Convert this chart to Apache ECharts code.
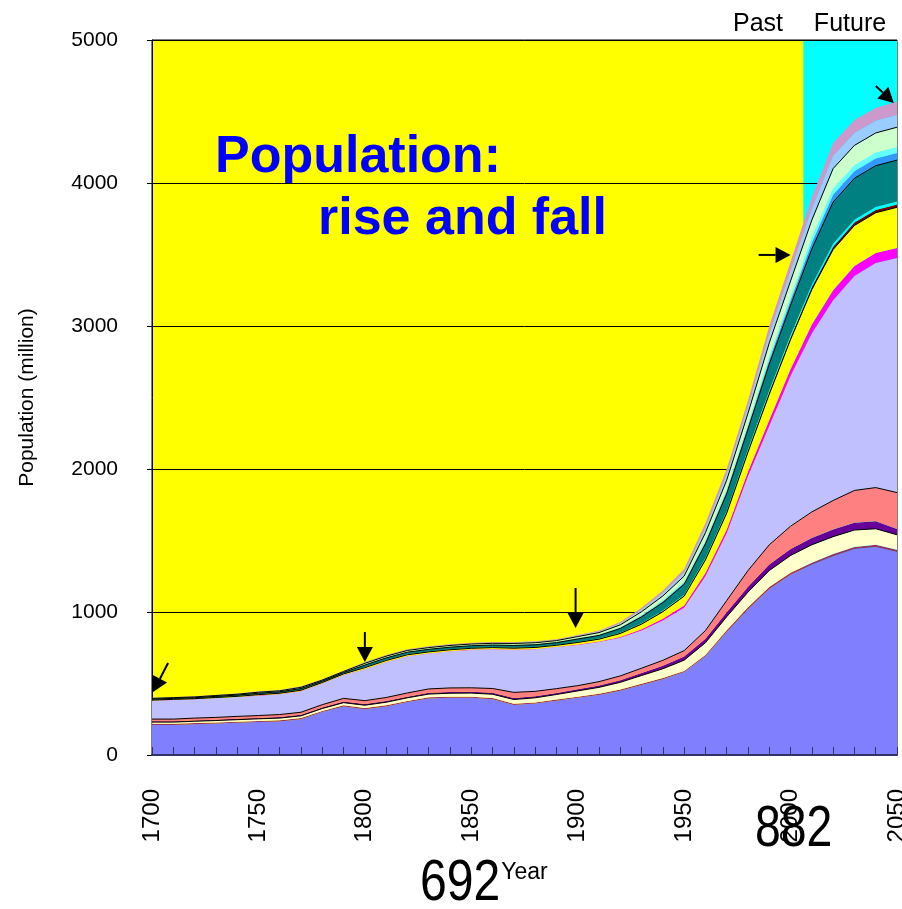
<!DOCTYPE html>
<html>
<head>
<meta charset="utf-8">
<script src="https://cdn.jsdelivr.net/npm/echarts@6/dist/echarts.min.js"></script>
<style>
html, body { margin: 0; padding: 0; background: #fff; }
#main { width: 902px; height: 909px; }
</style>
</head>
<body>
<div id="main"></div>
<script>
// 年份（每10年一个点）
var years = ['1700', '1710', '1720', '1730', '1740', '1750', '1760', '1770', '1780', '1790',
  '1800', '1810', '1820', '1830', '1840', '1850', '1860', '1870', '1880', '1890',
  '1900', '1910', '1920', '1930', '1940', '1950', '1960', '1970', '1980', '1990',
  '2000', '2010', '2020', '2030', '2040', '2050'];

// 各层人口（百万），自下而上堆叠
var layer1 = [210, 210, 215, 220, 225, 230, 235, 250, 300, 340, 320, 340, 370, 395, 400, 400, 390, 350, 360, 380, 400, 420, 450, 490, 530, 580, 690, 860, 1020, 1160, 1260, 1330, 1390, 1440, 1455, 1420];
var layer2 = [8, 8, 8, 8, 8, 8, 8, 8, 8, 8, 8, 8, 8, 8, 8, 8, 8, 8, 8, 8, 8, 8, 8, 8, 8, 8, 10, 12, 14, 15, 15, 15, 15, 15, 15, 15];
var layer3 = [12, 12, 13, 13, 14, 15, 15, 16, 17, 18, 20, 21, 22, 23, 24, 25, 27, 30, 32, 35, 40, 45, 50, 58, 65, 75, 85, 95, 105, 115, 120, 125, 122, 118, 112, 105];
var layer4 = [6, 6, 6, 6, 6, 6, 7, 7, 7, 8, 8, 8, 8, 9, 9, 9, 10, 10, 10, 11, 12, 13, 15, 18, 22, 25, 28, 32, 38, 42, 46, 48, 50, 52, 52, 40];
var layer5 = [15, 15, 16, 16, 17, 17, 18, 18, 20, 22, 24, 25, 26, 27, 28, 28, 30, 40, 35, 30, 25, 27, 30, 33, 37, 42, 57, 81, 113, 138, 159, 182, 203, 225, 236, 255];
var layer6 = [129, 134, 132, 135, 135, 139, 142, 146, 148, 164, 220, 248, 256, 248, 256, 265, 275, 297, 295, 291, 285, 277, 267, 263, 278, 300, 380, 470, 660, 830, 1050, 1250, 1400, 1500, 1570, 1640];
var layer7 = [1, 1, 1, 1, 1, 2, 2, 2, 2, 2, 2, 2, 2, 2, 2, 2, 2, 2, 2, 2, 3, 4, 6, 9, 12, 16, 22, 27, 32, 43, 50, 60, 70, 70, 70, 70];
var layer8 = [3, 3, 3, 3, 4, 5, 5, 6, 5, 5, 9, 9, 9, 9, 9, 9, 9, 10, 10, 10, 14, 16, 24, 36, 50, 65, 92, 114, 136, 180, 205, 245, 285, 283, 282, 285];
var layer9 = [1, 1, 1, 1, 1, 1, 1, 1, 1, 1, 1, 1, 1, 1, 1, 1, 1, 1, 1, 1, 2, 2, 2, 3, 4, 5, 7, 8, 10, 13, 15, 17, 20, 20, 20, 20];
var layer10 = [1, 1, 1, 1, 1, 1, 1, 1, 1, 1, 2, 2, 2, 2, 2, 2, 2, 2, 2, 2, 2, 2, 3, 3, 4, 5, 7, 8, 10, 13, 15, 17, 20, 20, 20, 20];
var layer11 = [5, 5, 5, 6, 7, 8, 8, 10, 8, 8, 15, 15, 15, 15, 15, 15, 15, 16, 16, 16, 20, 22, 30, 45, 56, 72, 98, 120, 140, 185, 210, 250, 292, 290, 289, 290];
var layer12 = [1, 1, 1, 1, 1, 2, 2, 2, 2, 2, 2, 2, 2, 2, 2, 2, 2, 3, 3, 3, 3, 4, 5, 7, 9, 12, 16, 20, 24, 32, 37, 44, 51, 50, 50, 50];
var layer13 = [2, 2, 2, 2, 2, 2, 2, 2, 2, 2, 3, 3, 3, 3, 3, 3, 3, 3, 3, 3, 4, 4, 5, 7, 9, 10, 14, 17, 20, 26, 30, 35, 41, 40, 40, 40];
var layer14 = [2, 2, 2, 3, 3, 3, 3, 4, 3, 3, 7, 7, 7, 7, 7, 7, 7, 8, 8, 8, 10, 12, 15, 22, 28, 36, 48, 58, 68, 90, 103, 123, 142, 140, 139, 140];
var layer15 = [2, 2, 2, 2, 2, 3, 3, 3, 3, 3, 4, 4, 4, 4, 4, 4, 4, 5, 5, 5, 6, 7, 10, 14, 19, 24, 32, 38, 44, 58, 66, 78, 89, 87, 86, 85];
var layer16 = [2, 2, 2, 2, 3, 3, 3, 4, 3, 3, 5, 5, 5, 5, 5, 5, 5, 5, 5, 5, 6, 7, 10, 14, 19, 25, 34, 40, 46, 60, 69, 81, 90, 90, 89, 95];

// 未来区间（青色背景）
var futureSpan = [[2006, 5000], [2050, 5000]];

// 箭头所指的点 [年份, 人口]
var arrowPoints = [[1700.5, 440], [1800, 650], [1899, 888], [2000, 3497], [2048.5, 4560]];

var layers = [layer1, layer2, layer3, layer4, layer5, layer6, layer7, layer8,
  layer9, layer10, layer11, layer12, layer13, layer14, layer15, layer16];
var colors = ['#8080ff', '#993366', '#ffffcc', '#660099', '#ff8080', '#c0c0ff', '#ff00ff', '#ffff00',
  '#800000', '#00ffff', '#008080', '#3399ff', '#66ffff', '#ccffcc', '#99ccff', '#cc99cc'];
var outlined = [false, false, true, false, true, false, false, true,
  false, false, true, false, false, true, false, false];
// 箭头尾部相对箭头尖的像素偏移
var arrowTails = [[15, -29], [0, -30], [0, -40], [-32, 0], [-18, -17]];

var series = [];
series.push({
  name: 'Future',
  type: 'line',
  xAxisIndex: 1,
  z: 1,
  silent: true,
  symbol: 'none',
  lineStyle: { width: 0 },
  areaStyle: { color: '#00ffff', opacity: 1 },
  data: futureSpan
});
for (var i = 0; i < layers.length; i++) {
  series.push({
    name: 'layer' + (i + 1),
    type: 'line',
    stack: 'pop',
    z: 3,
    symbol: 'none',
    lineStyle: outlined[i] ? { color: '#000', width: 1 } : { width: 0 },
    areaStyle: { color: colors[i], opacity: 1 },
    data: layers[i]
  });
}

var myChart = echarts.init(document.getElementById('main'));

var option = {
  animation: false,
  grid: {
    left: 152,
    right: 5,
    top: 40,
    bottom: 154,
    outerBoundsMode: 'none',
    show: true,
    backgroundColor: '#ffff00',
    borderColor: '#000',
    borderWidth: 1
  },
  xAxis: [{
    type: 'category',
    data: years,
    boundaryGap: false,
    z: 4,
    name: 'Year',
    nameLocation: 'middle',
    nameGap: 106,
    nameTextStyle: { fontSize: 23, color: '#000', fontFamily: 'Liberation Sans' },
    axisLine: { lineStyle: { color: '#333366', width: 2 } },
    axisTick: { inside: true, length: 8, interval: 0, lineStyle: { color: '#333366' } },
    splitLine: { show: false },
    axisLabel: {
      interval: 4,
      rotate: 90,
      margin: 34,
      fontSize: 24,
      color: '#000',
      fontFamily: 'Liberation Sans'
    }
  }, {
    type: 'value',
    min: 1700,
    max: 2050,
    show: false
  }],
  yAxis: {
    type: 'value',
    min: 0,
    max: 5000,
    interval: 1000,
    z: 2,
    name: 'Population (million)',
    nameLocation: 'middle',
    nameGap: 114,
    nameTextStyle: { fontSize: 21, color: '#000', fontFamily: 'Liberation Sans' },
    axisLine: { show: true, lineStyle: { color: '#000' } },
    axisTick: { show: true, length: 5, lineStyle: { color: '#000' } },
    splitLine: { lineStyle: { color: '#000', width: 1 } },
    axisLabel: {
      margin: 34,
      fontSize: 21,
      color: '#000',
      fontFamily: 'Liberation Sans',
      formatter: function(v) {
        return String(v);
      }
    }
  },
  series: series
};
myChart.setOption(option);

// 标题、Past/Future、箭头等
var graphics = [
  {
    type: 'text', z: 10, left: 215, top: 132,
    style: { text: 'Population:', font: 'bold 52px Liberation Sans', fill: '#0000ff' }
  },
  {
    type: 'text', z: 10, left: 318, top: 194,
    style: { text: 'rise and fall', font: 'bold 52px Liberation Sans', fill: '#0000ff' }
  },
  {
    type: 'text', z: 10, x: 758, y: 24,
    style: { text: 'Past', font: '25px Liberation Sans', fill: '#000', align: 'center', verticalAlign: 'middle' }
  },
  {
    type: 'text', z: 10, x: 850, y: 24,
    style: { text: 'Future', font: '25px Liberation Sans', fill: '#000', align: 'center', verticalAlign: 'middle' }
  },
  {
    type: 'text', z: 10, x: 420, y: 855, scaleX: 0.83,
    style: { text: '692', font: '58px Liberation Sans', fill: '#000', align: 'left', verticalAlign: 'top' }
  },
  {
    type: 'text', z: 10, x: 755, y: 801, scaleX: 0.8,
    style: { text: '882', font: '58px Liberation Sans', fill: '#000', align: 'left', verticalAlign: 'top' }
  }
];

for (var k = 0; k < arrowPoints.length; k++) {
  var tip = myChart.convertToPixel({ xAxisIndex: 1, yAxisIndex: 0 }, arrowPoints[k]);
  var tail = [tip[0] + arrowTails[k][0], tip[1] + arrowTails[k][1]];
  var vx = tip[0] - tail[0], vy = tip[1] - tail[1];
  var len = Math.sqrt(vx * vx + vy * vy);
  var ux = vx / len, uy = vy / len;
  var hl = 15, hw = 8;
  var bx = tip[0] - ux * hl, by = tip[1] - uy * hl;
  graphics.push({
    type: 'line', z: 10,
    shape: { x1: tail[0], y1: tail[1], x2: bx, y2: by },
    style: { stroke: '#000', lineWidth: 2 }
  });
  graphics.push({
    type: 'polygon', z: 10,
    shape: { points: [[tip[0], tip[1]], [bx - uy * hw, by + ux * hw], [bx + uy * hw, by - ux * hw]] },
    style: { fill: '#000' }
  });
}

myChart.setOption({ graphic: graphics });
</script>
</body>
</html>
